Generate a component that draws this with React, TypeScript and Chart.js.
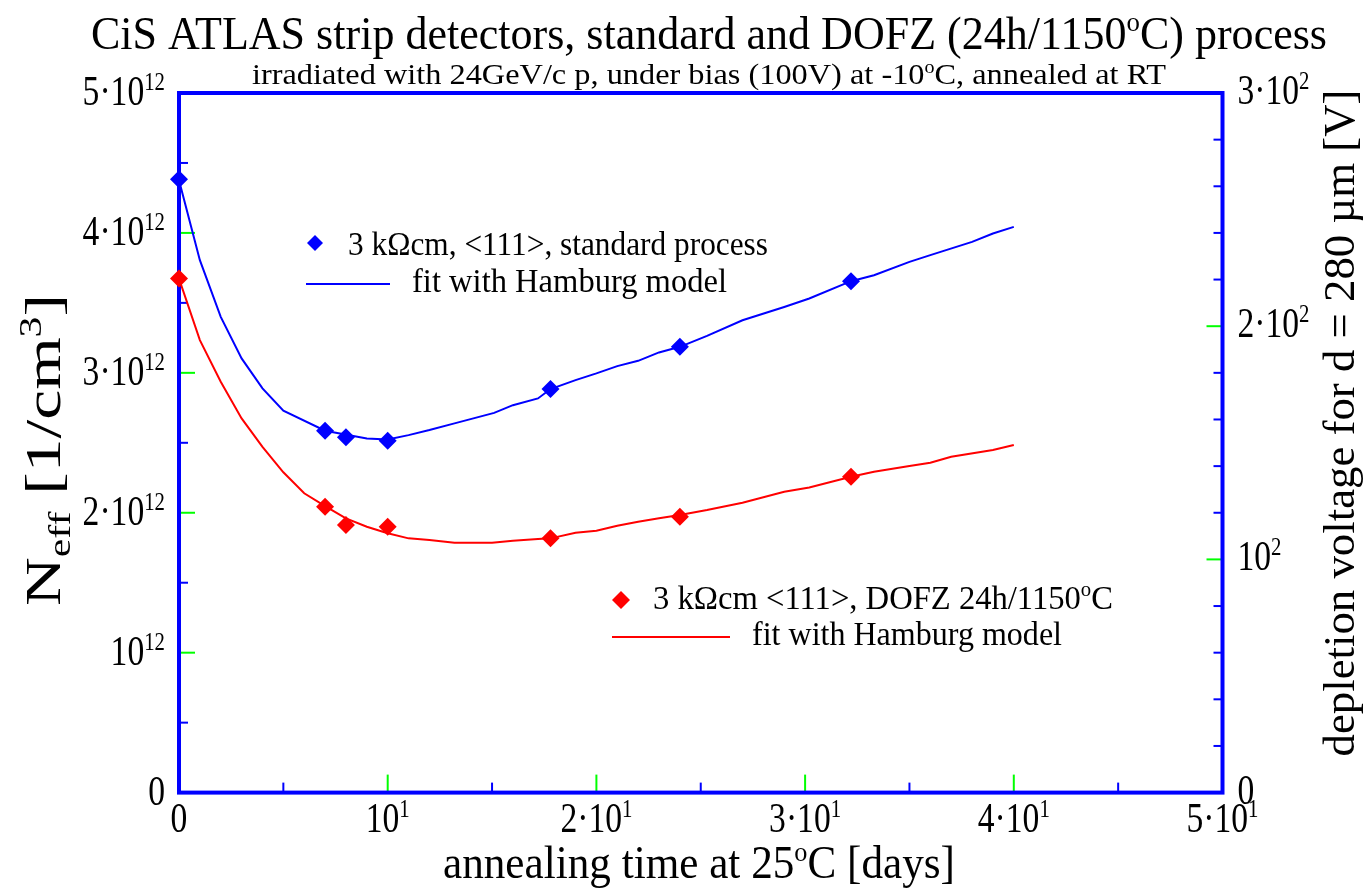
import React, { useEffect, useRef } from "react";
import { Chart, registerables } from "chart.js";

Chart.register(...registerables);

// Measured effective doping after irradiation, standard process
const standardDays = [0, 7, 8, 10, 17.8, 24, 32.2];
const standardNeff = [4.384e12, 2.586e12, 2.539e12, 2.514e12, 2.884e12, 3.186e12, 3.655e12];

// Measured effective doping, DOFZ 24h/1150°C process
const dofzDays = [0, 7, 8, 10, 17.8, 24, 32.2];
const dofzNeff = [3.674e12, 2.043e12, 1.912e12, 1.9e12, 1.817e12, 1.971e12, 2.257e12];

// Hamburg model fit, standard process
const standardFitDays = [0, 1, 2, 3, 4, 5, 7, 9, 10, 11, 12, 13.2, 15.1, 16, 17.2, 17.8, 19, 20, 21, 22, 23, 24, 25.3, 27, 29, 30.2, 32.2, 33.3, 35, 36, 38, 39, 40];
const standardFitNeff = [4.376e12, 3.805e12, 3.4e12, 3.103e12, 2.889e12, 2.729e12, 2.586e12, 2.531e12, 2.524e12, 2.555e12, 2.591e12, 2.639e12, 2.714e12, 2.769e12, 2.817e12, 2.884e12, 2.948e12, 2.996e12, 3.048e12, 3.086e12, 3.146e12, 3.186e12, 3.264e12, 3.376e12, 3.471e12, 3.531e12, 3.655e12, 3.698e12, 3.793e12, 3.841e12, 3.936e12, 3.996e12, 4.043e12];

// Hamburg model fit, DOFZ process
const dofzFitDays = [0, 1, 2, 3, 4, 5, 6, 7, 8, 9, 10, 11, 12, 13.2, 15, 16, 17.2, 17.8, 19, 20, 21, 22, 23, 24, 25.3, 27, 29, 30.2, 32.2, 33.3, 35, 36, 37, 39, 40];
const dofzFitNeff = [3.674e12, 3.234e12, 2.936e12, 2.674e12, 2.471e12, 2.289e12, 2.139e12, 2.048e12, 1.96e12, 1.9e12, 1.853e12, 1.817e12, 1.805e12, 1.786e12, 1.786e12, 1.8e12, 1.812e12, 1.817e12, 1.857e12, 1.871e12, 1.907e12, 1.936e12, 1.96e12, 1.984e12, 2.019e12, 2.071e12, 2.15e12, 2.181e12, 2.257e12, 2.293e12, 2.334e12, 2.357e12, 2.4e12, 2.448e12, 2.484e12];

// Axis ticks and their labels (^{..} superscript, _{..} subscript)
const xTicks = [0, 10, 20, 30, 40, 50];
const xTickLabels = ["0", "10^{1}", "2·10^{1}", "3·10^{1}", "4·10^{1}", "5·10^{1}"];
const xMajorTicks = [10, 20, 30, 40];
const xMinorTicks = [5, 15, 25, 35, 45];

const yTicks = [0, 1e12, 2e12, 3e12, 4e12, 5e12];
const yTickLabels = ["0", "10^{12}", "2·10^{12}", "3·10^{12}", "4·10^{12}", "5·10^{12}"];
const yMajorTicks = [1e12, 2e12, 3e12, 4e12];
const yMinorTicks = [0.5e12, 1.5e12, 2.5e12, 3.5e12, 4.5e12];

const vTicks = [0, 100, 200, 300];
const vTickLabels = ["0", "10^{2}", "2·10^{2}", "3·10^{2}"];
const vMajorTicks = [100, 200];
const vMinorTicks = [20, 40, 60, 80, 120, 140, 160, 180, 220, 240, 260, 280];

const BLUE = "#0000ff";
const RED = "#ff0000";
const GREEN = "#00ff00";
const FONT = '"Liberation Serif", "Times New Roman", serif';

type Part = { text: string; kind: "n" | "sup" | "sub" };

function parseRich(s: string): Part[] {
  const parts: Part[] = [];
  const re = /([\^_])\{([^}]*)\}/g;
  let last = 0;
  let m: RegExpExecArray | null;
  while ((m = re.exec(s))) {
    if (m.index > last) parts.push({ text: s.slice(last, m.index), kind: "n" });
    parts.push({ text: m[2], kind: m[1] === "^" ? "sup" : "sub" });
    last = re.lastIndex;
  }
  if (last < s.length) parts.push({ text: s.slice(last), kind: "n" });
  return parts;
}

interface RichOpts {
  size: number;
  align?: "left" | "center" | "right";
  width?: number;
  sx?: number;
  angle?: number;
  color?: string;
  small?: number;
  rise?: number;
  drop?: number;
}

function drawRich(ctx: CanvasRenderingContext2D, s: string, x: number, y: number, o: RichOpts) {
  const parts = parseRich(s);
  const small = o.small ?? o.size * 0.65;
  const fontOf = (p: Part) => `${p.kind === "n" ? o.size : small}px ${FONT}`;
  let natural = 0;
  const widths = parts.map((p) => {
    ctx.font = fontOf(p);
    const w = ctx.measureText(p.text).width;
    natural += w;
    return w;
  });
  const sx = o.width ? o.width / natural : o.sx ?? 1;
  ctx.save();
  ctx.translate(x, y);
  if (o.angle) ctx.rotate(o.angle);
  ctx.scale(sx, 1);
  let cx = o.align === "center" ? -natural / 2 : o.align === "right" ? -natural : 0;
  ctx.fillStyle = o.color ?? "#000";
  ctx.textAlign = "left";
  ctx.textBaseline = "alphabetic";
  parts.forEach((p, i) => {
    ctx.font = fontOf(p);
    const dy = p.kind === "sup" ? -(o.rise ?? o.size * 0.38) : p.kind === "sub" ? o.drop ?? o.size * 0.2 : 0;
    ctx.fillText(p.text, cx, dy);
    cx += widths[i];
  });
  ctx.restore();
}

function diamond(ctx: CanvasRenderingContext2D, x: number, y: number, r: number, color: string) {
  ctx.beginPath();
  ctx.moveTo(x, y - r);
  ctx.lineTo(x + r, y);
  ctx.lineTo(x, y + r);
  ctx.lineTo(x - r, y);
  ctx.closePath();
  ctx.fillStyle = color;
  ctx.fill();
}

const framePlugin = {
  id: "frameAndTicks",
  beforeDatasetsDraw(chart: any) {
    const { ctx, chartArea: a, scales } = chart;
    const x = scales.x, y = scales.y, v = scales.y2;
    ctx.save();
    ctx.lineWidth = 2;
    const tick = (x1: number, y1: number, x2: number, y2: number, c: string) => {
      ctx.strokeStyle = c;
      ctx.beginPath();
      ctx.moveTo(x1, y1);
      ctx.lineTo(x2, y2);
      ctx.stroke();
    };
    xMinorTicks.forEach((t) => { const px = x.getPixelForValue(t); tick(px, a.bottom, px, a.bottom - 10, BLUE); });
    xMajorTicks.forEach((t) => { const px = x.getPixelForValue(t); tick(px, a.bottom, px, a.bottom - 18, GREEN); });
    yMinorTicks.forEach((t) => { const py = y.getPixelForValue(t); tick(a.left, py, a.left + 9, py, BLUE); });
    yMajorTicks.forEach((t) => { const py = y.getPixelForValue(t); tick(a.left, py, a.left + 16, py, GREEN); });
    vMinorTicks.forEach((t) => { const py = v.getPixelForValue(t); tick(a.right, py, a.right - 9, py, BLUE); });
    vMajorTicks.forEach((t) => { const py = v.getPixelForValue(t); tick(a.right, py, a.right - 16, py, GREEN); });
    ctx.strokeStyle = BLUE;
    ctx.lineWidth = 4;
    ctx.strokeRect(a.left, a.top, a.right - a.left, a.bottom - a.top);
    ctx.restore();
  },
  afterDraw(chart: any) {
    const { ctx, chartArea: a, scales } = chart;
    const x = scales.x, y = scales.y, v = scales.y2;
    const tickOpts = { size: 42, small: 26, rise: 15, sx: 0.8 };

    xTicks.forEach((t, i) => {
      drawRich(ctx, xTickLabels[i], x.getPixelForValue(t), 832, { ...tickOpts, align: "center" });
    });
    yTicks.forEach((t, i) => {
      drawRich(ctx, yTickLabels[i], a.left - 14, y.getPixelForValue(t) + 12, { ...tickOpts, align: "right" });
    });
    vTicks.forEach((t, i) => {
      drawRich(ctx, vTickLabels[i], a.right + 15, v.getPixelForValue(t) + 11, { ...tickOpts, align: "left" });
    });

    // titles
    drawRich(ctx, "CiS ATLAS strip detectors, standard and DOFZ (24h/1150^{o}C) process", 709, 49, { size: 46, align: "center", width: 1236, small: 28, rise: 18 });
    drawRich(ctx, "irradiated with 24GeV/c p, under bias (100V) at -10^{o}C, annealed at RT", 709, 84, { size: 29, align: "center", width: 914, small: 18, rise: 11 });
    drawRich(ctx, "annealing time at 25^{o}C [days]", 699, 878, { size: 46, align: "center", width: 512, small: 28, rise: 17 });
    drawRich(ctx, "N_{eff} [1/cm^{3}]", 60, 450, { size: 50, align: "center", width: 312, angle: -Math.PI / 2, small: 31, rise: 19, drop: 10 });
    drawRich(ctx, "depletion voltage for d = 280 µm [V]", 1354, 423, { size: 44, align: "center", width: 667, angle: -Math.PI / 2 });

    // legend, standard process
    diamond(ctx, 315, 243, 8, BLUE);
    drawRich(ctx, "3 kΩcm, <111>, standard process", 348, 255, { size: 33, align: "left", width: 420 });
    ctx.save();
    ctx.strokeStyle = BLUE;
    ctx.lineWidth = 2;
    ctx.beginPath();
    ctx.moveTo(306, 284);
    ctx.lineTo(390, 284);
    ctx.stroke();
    ctx.restore();
    drawRich(ctx, "fit with Hamburg model", 412, 292, { size: 33, align: "left", width: 315 });

    // legend, DOFZ process
    diamond(ctx, 621, 600, 9, RED);
    drawRich(ctx, "3 kΩcm <111>, DOFZ 24h/1150^{o}C", 653, 609, { size: 33, align: "left", width: 460, small: 21, rise: 13 });
    ctx.save();
    ctx.strokeStyle = RED;
    ctx.lineWidth = 2;
    ctx.beginPath();
    ctx.moveTo(612, 637);
    ctx.lineTo(730, 637);
    ctx.stroke();
    ctx.restore();
    drawRich(ctx, "fit with Hamburg model", 752, 645, { size: 33, align: "left", width: 310 });
  },
};

export default function App() {
  const ref = useRef<HTMLCanvasElement | null>(null);

  useEffect(() => {
    if (!ref.current) return;
    const pts = (xs: number[], ys: number[]) => xs.map((d, i) => ({ x: d, y: ys[i] }));
    const chart = new Chart(ref.current, {
      type: "scatter",
      data: {
        datasets: [
          {
            label: "3 kΩcm, <111>, standard process",
            data: pts(standardDays, standardNeff),
            showLine: false,
            pointStyle: "rectRot",
            pointRadius: 9,
            pointBorderWidth: 0,
            backgroundColor: BLUE,
            borderColor: BLUE,
            clip: false,
            order: 0,
          },
          {
            label: "fit with Hamburg model",
            data: pts(standardFitDays, standardFitNeff),
            showLine: true,
            pointRadius: 0,
            borderColor: BLUE,
            borderWidth: 2,
            tension: 0,
            order: 1,
          },
          {
            label: "3 kΩcm <111>, DOFZ 24h/1150°C",
            data: pts(dofzDays, dofzNeff),
            showLine: false,
            pointStyle: "rectRot",
            pointRadius: 9,
            pointBorderWidth: 0,
            backgroundColor: RED,
            borderColor: RED,
            clip: false,
            order: 0,
          },
          {
            label: "fit with Hamburg model",
            data: pts(dofzFitDays, dofzFitNeff),
            showLine: true,
            pointRadius: 0,
            borderColor: RED,
            borderWidth: 2,
            tension: 0,
            order: 1,
          },
        ],
      },
      options: {
        animation: false,
        responsive: false,
        devicePixelRatio: 1,
        layout: { padding: { left: 179, right: 142.5, top: 93, bottom: 97.4 } },
        plugins: { legend: { display: false }, tooltip: { enabled: false }, title: { display: false } },
        scales: {
          x: { type: "linear", min: 0, max: 50, display: false },
          y: { type: "linear", min: 0, max: 5e12, display: false },
          y2: { type: "linear", position: "right", min: 0, max: 300, display: false },
        },
      },
      plugins: [framePlugin],
    });
    return () => chart.destroy();
  }, []);

  return (
    <div style={{ position: "absolute", left: 0, top: 0, width: 1365, height: 890, background: "#fff" }}>
      <canvas ref={ref} width={1365} height={890} style={{ display: "block" }} />
    </div>
  );
}
